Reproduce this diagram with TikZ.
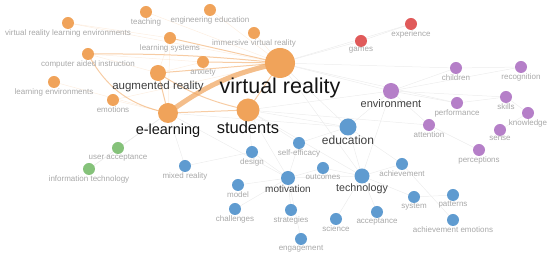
\documentclass[tikz,border=0pt]{standalone}
\usepackage{fontspec}
\setmainfont{Liberation Sans}
\usepackage{tikz}
\usetikzlibrary{positioning, backgrounds}
\definecolor{vos-orange}{HTML}{F0A35A}
\definecolor{vos-red}{HTML}{E05A5A}
\definecolor{vos-green}{HTML}{85C27A}
\definecolor{vos-blue}{HTML}{5F9BD0}
\definecolor{vos-purple}{HTML}{B57FC8}

\begin{document}
\begin{tikzpicture}[
    x=1pt, y=-1pt,
    kw/.style={circle, inner sep=0pt, minimum size=12pt},
    orangekw/.style={kw, fill=vos-orange},
    redkw/.style={kw, fill=vos-red},
    greenkw/.style={kw, fill=vos-green},
    bluekw/.style={kw, fill=vos-blue},
    purplekw/.style={kw, fill=vos-purple},
    lbl/.style={inner sep=0pt, font=\fontsize{8}{8}\selectfont, text=black!34},
    midlbl/.style={inner sep=0pt, text=black!75},
    biglbl/.style={inner sep=0pt, text=black!92},
    link/.style={draw=vos-orange, line width=1pt, opacity=0.55},
    weak/.style={draw=vos-orange, line width=0.5pt, opacity=0.18},
    faint/.style={draw=black!7, line width=0.5pt}
]
\useasboundingbox (0,0) rectangle (550,256);

% Orange cluster
\node[orangekw, minimum size=30pt] (vr) at (280,63) {};
\node[orangekw, minimum size=23pt] (students) at (248,110) {};
\node[orangekw, minimum size=20pt] (elearning) at (168,113) {};
\node[orangekw, minimum size=16pt] (ar) at (158,73) {};
\node[orangekw] (cai) at (88,54) {};
\node[orangekw] (anxiety) at (203,62) {};
\node[orangekw] (lsys) at (170,38) {};
\node[orangekw] (teaching) at (146,12) {};
\node[orangekw] (engedu) at (210,10) {};
\node[orangekw] (ivr) at (254,33) {};
\node[orangekw] (vrle) at (68,23) {};
\node[orangekw] (lenv) at (54,82) {};
\node[orangekw] (emotions) at (113,100) {};

% Red cluster
\node[redkw] (games) at (361,41) {};
\node[redkw] (experience) at (411,24) {};

% Purple cluster
\node[purplekw, minimum size=16pt] (environment) at (391,91) {};
\node[purplekw] (children) at (456,68) {};
\node[purplekw] (recognition) at (521,67) {};
\node[purplekw] (performance) at (457,103) {};
\node[purplekw] (skills) at (506,97) {};
\node[purplekw] (knowledge) at (528,113) {};
\node[purplekw] (attention) at (429,125) {};
\node[purplekw] (sense) at (500,130) {};
\node[purplekw] (perceptions) at (479,150) {};

% Green cluster
\node[greenkw] (uacc) at (118,148) {};
\node[greenkw] (infotech) at (89,169) {};

% Blue cluster
\node[bluekw, minimum size=17pt] (education) at (348,127) {};
\node[bluekw, minimum size=15pt] (technology) at (362,176) {};
\node[bluekw, minimum size=14pt] (motivation) at (288,178) {};
\node[bluekw] (mixed) at (185,166) {};
\node[bluekw] (design) at (252,152) {};
\node[bluekw] (selfeff) at (299,143) {};
\node[bluekw] (outcomes) at (323,168) {};
\node[bluekw] (model) at (238,185) {};
\node[bluekw] (achieve) at (402,164) {};
\node[bluekw] (challenges) at (235,209) {};
\node[bluekw] (strategies) at (291,210) {};
\node[bluekw] (science) at (336,219) {};
\node[bluekw] (acceptance) at (377,212) {};
\node[bluekw] (system) at (414,197) {};
\node[bluekw] (patterns) at (453,195) {};
\node[bluekw] (achemo) at (453,220) {};
\node[bluekw] (engagement) at (301,239) {};

% Labels
\node[biglbl, font=\fontsize{21.5}{22}\selectfont, below=0pt of vr] (vr-l) {virtual reality};
\node[biglbl, font=\fontsize{16.5}{17}\selectfont, below=0pt of students] (students-l) {students};
\node[biglbl, font=\fontsize{14.5}{15}\selectfont, below=1pt of elearning] (elearning-l) {e-learning};
\node[midlbl, font=\fontsize{11.5}{12}\selectfont, below=0pt of ar] (ar-l) {augmented reality};
\node[midlbl, font=\fontsize{11}{12}\selectfont, below=0pt of environment] (environment-l) {environment};
\node[midlbl, font=\fontsize{12}{12}\selectfont, below=0pt of education] (education-l) {education};
\node[midlbl, font=\fontsize{10.7}{11}\selectfont, below=0pt of technology] (technology-l) {technology};
\node[midlbl, font=\fontsize{10}{10}\selectfont, below=0pt of motivation] (motivation-l) {motivation};
\node[lbl, below=0pt of cai] (cai-l) {computer aided instruction};
\node[lbl, below=0pt of anxiety] (anxiety-l) {anxiety};
\node[lbl, below=0pt of lsys] (lsys-l) {learning systems};
\node[lbl, below=0pt of teaching] (teaching-l) {teaching};
\node[lbl, below=0pt of engedu] (engedu-l) {engineering education};
\node[lbl, below=0pt of ivr] (ivr-l) {immersive virtual reality};
\node[lbl, below=0pt of vrle] (vrle-l) {virtual reality learning environments};
\node[lbl, below=0pt of lenv] (lenv-l) {learning environments};
\node[lbl, below=0pt of emotions] (emotions-l) {emotions};
\node[lbl, below=0pt of games] (games-l) {games};
\node[lbl, below=0pt of experience] (experience-l) {experience};
\node[lbl, below=0pt of children] (children-l) {children};
\node[lbl, below=0pt of recognition] (recognition-l) {recognition};
\node[lbl, below=0pt of performance] (performance-l) {performance};
\node[lbl, below=0pt of skills] (skills-l) {skills};
\node[lbl, below=0pt of knowledge] (knowledge-l) {knowledge};
\node[lbl, below=0pt of attention] (attention-l) {attention};
\node[lbl, below=0pt of sense] (sense-l) {sense};
\node[lbl, below=0pt of perceptions] (perceptions-l) {perceptions};
\node[lbl, below=0pt of uacc] (uacc-l) {user acceptance};
\node[lbl, below=0pt of infotech] (infotech-l) {information technology};
\node[lbl, below=0pt of mixed] (mixed-l) {mixed reality};
\node[lbl, below=0pt of design] (design-l) {design};
\node[lbl, below=0pt of selfeff] (selfeff-l) {self-efficacy};
\node[lbl, below=0pt of outcomes] (outcomes-l) {outcomes};
\node[lbl, below=0pt of model] (model-l) {model};
\node[lbl, below=0pt of achieve] (achieve-l) {achievement};
\node[lbl, below=0pt of challenges] (challenges-l) {challenges};
\node[lbl, below=0pt of strategies] (strategies-l) {strategies};
\node[lbl, below=0pt of science] (science-l) {science};
\node[lbl, below=0pt of acceptance] (acceptance-l) {acceptance};
\node[lbl, below=0pt of system] (system-l) {system};
\node[lbl, below=0pt of patterns] (patterns-l) {patterns};
\node[lbl, below=0pt of achemo] (achemo-l) {achievement emotions};
\node[lbl, below=0pt of engagement] (engagement-l) {engagement};

\begin{scope}[on background layer]
% Faint links
\draw[faint] (vr.center) -- (environment.center);
\draw[faint] (vr.center) -- (education.center);
\draw[faint] (vr.center) -- (games.center);
\draw[faint] (vr.center) -- (experience.center);
\draw[faint] (vr.center) -- (children.center);
\draw[faint] (vr.center) -- (technology.center);
\draw[faint] (vr.center) -- (performance.center);
\draw[faint] (students.center) -- (education.center);
\draw[faint] (students.center) -- (motivation.center);
\draw[faint] (students.center) -- (design.center);
\draw[faint] (students.center) -- (environment.center);
\draw[faint] (students.center) -- (technology.center);
\draw[faint] (students.center) -- (selfeff.center);
\draw[faint] (students.center) -- (attention.center);
\draw[faint] (elearning.center) -- (uacc.center);
\draw[faint] (elearning.center) -- (infotech.center);
\draw[faint] (elearning.center) -- (mixed.center);
\draw[faint] (elearning.center) -- (education.center);
\draw[faint] (elearning.center) -- (motivation.center);
\draw[faint] (uacc.center) -- (infotech.center);
\draw[faint] (education.center) -- (technology.center);
\draw[faint] (education.center) -- (environment.center);
\draw[faint] (education.center) -- (selfeff.center);
\draw[faint] (education.center) -- (achieve.center);
\draw[faint] (motivation.center) -- (technology.center);
\draw[faint] (motivation.center) -- (strategies.center);
\draw[faint] (motivation.center) -- (selfeff.center);
\draw[faint] (motivation.center) -- (outcomes.center);
\draw[faint] (motivation.center) -- (engagement.center);
\draw[faint] (motivation.center) -- (challenges.center);
\draw[faint] (motivation.center) -- (model.center);
\draw[faint] (motivation.center) -- (design.center);
\draw[faint] (technology.center) -- (achieve.center);
\draw[faint] (technology.center) -- (acceptance.center);
\draw[faint] (technology.center) -- (system.center);
\draw[faint] (technology.center) -- (science.center);
\draw[faint] (technology.center) -- (outcomes.center);
\draw[faint] (achieve.center) -- (achemo.center);
\draw[faint] (system.center) -- (patterns.center);
\draw[faint] (environment.center) -- (children.center);
\draw[faint] (environment.center) -- (performance.center);
\draw[faint] (environment.center) -- (attention.center);
\draw[faint] (environment.center) -- (skills.center);
\draw[faint] (environment.center) -- (recognition.center);
\draw[faint] (environment.center) -- (technology.center);
\draw[faint] (performance.center) -- (skills.center);
\draw[faint] (skills.center) -- (knowledge.center);
\draw[faint] (sense.center) -- (knowledge.center);
\draw[faint] (attention.center) -- (perceptions.center);
\draw[faint] (children.center) -- (recognition.center);
\draw[faint] (games.center) -- (experience.center);
\draw[faint] (mixed.center) -- (design.center);

% Orange links
\draw[weak] (vr.center) -- (ivr.center);
\draw[weak] (vr.center) -- (teaching.center);
\draw[weak] (vr.center) -- (engedu.center);
\draw[weak] (vr.center) -- (vrle.center);
\draw[weak] (vr.center) -- (emotions.center);
\draw[weak] (elearning.center) -- (lsys.center);
\draw[weak] (elearning.center) -- (lenv.center);
\draw[weak] (elearning.center) -- (emotions.center);
\draw[weak] (ar.center) -- (cai.center);
\draw[weak] (ar.center) -- (anxiety.center);
\draw[weak] (ar.center) -- (lsys.center);
\draw[weak] (cai.center) -- (anxiety.center);
\draw[weak] (vrle.center) -- (lsys.center);
\draw[link] (cai.center) to[bend left=3] (vr.center);
\draw[link] (cai.center) to[bend right=25] (elearning.center);
\draw[link] (elearning.center) -- (students.center);
\draw[link] (students.center) -- (vr.center);
\draw[link] (ar.center) -- (vr.center);
\draw[link] (anxiety.center) -- (vr.center);
\draw[link] (lsys.center) -- (vr.center);
\draw[link] (ar.center) to[bend right=10] (students.center);
\draw[link] (ar.center) -- (elearning.center);
\draw[draw=vos-orange, line width=5pt, opacity=0.7] (elearning.center) to[bend left=12] (vr.center);
\end{scope}

\end{tikzpicture}
\end{document}
